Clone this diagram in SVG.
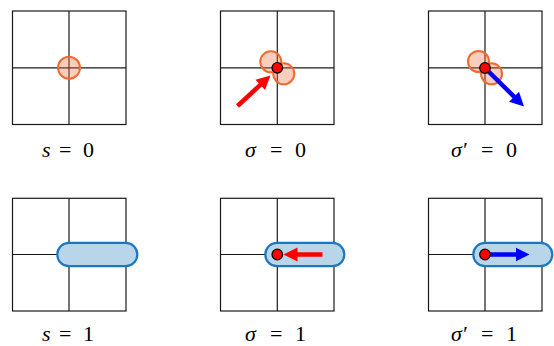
<svg xmlns="http://www.w3.org/2000/svg" width="554" height="346" viewBox="0 0 554 346">
<style>
.grid{fill:none;stroke:#1a1a1a;stroke-width:1.2}
.disc{fill:#f07040;fill-opacity:0.35;stroke:#f06a30;stroke-width:2}
.cap{fill:#b9d5ea;stroke:#1a78c0;stroke-width:2.2}
.dot{fill:#ff0000;stroke:#000;stroke-width:1.2}
.ar{stroke:#ff0000;stroke-width:4.5;fill:none}
.ab{stroke:#0000ff;stroke-width:4.5;fill:none}
text{font-family:'Liberation Serif','Times New Roman',serif;font-size:22px;fill:#000}
.it{font-style:italic}
</style>
<defs>
<marker id="hr" markerUnits="userSpaceOnUse" markerWidth="16" markerHeight="16" viewBox="0 0 16 16" refX="2" refY="8" orient="auto"><path d="M0,1 L14,8 L0,15 z" fill="#ff0000"/></marker>
<marker id="hb" markerUnits="userSpaceOnUse" markerWidth="16" markerHeight="16" viewBox="0 0 16 16" refX="2" refY="8" orient="auto"><path d="M0,1 L14,8 L0,15 z" fill="#0000ff"/></marker>
</defs>
<g id="panel-s0">
<rect class="grid" x="12.5" y="11" width="113.5" height="113.5"/>
<line class="grid" x1="69" y1="11" x2="69" y2="124.5"/>
<line class="grid" x1="12.5" y1="67.8" x2="126" y2="67.8"/>
<circle class="disc" cx="69" cy="67.8" r="11"/>
<text y="157"><tspan class="it" x="42">s</tspan><tspan x="59">=</tspan><tspan x="83">0</tspan></text>
</g>
<g id="panel-sigma0">
<rect class="grid" x="220.5" y="11" width="113.5" height="113.5"/>
<line class="grid" x1="277.3" y1="11" x2="277.3" y2="124.5"/>
<line class="grid" x1="220.5" y1="67.8" x2="334" y2="67.8"/>
<circle class="disc" cx="270.8" cy="61.8" r="10.5"/>
<circle class="disc" cx="283.8" cy="73.8" r="10.5"/>
</g>
<g id="panel-sigmap0">
<rect class="grid" x="428.5" y="11" width="113.5" height="113.5"/>
<line class="grid" x1="485" y1="11" x2="485" y2="124.5"/>
<line class="grid" x1="428.5" y1="67.8" x2="542" y2="67.8"/>
<circle class="disc" cx="478.5" cy="61.5" r="10.5"/>
<circle class="disc" cx="491.5" cy="73.8" r="10.5"/>
</g>
<g id="panel-s1">
<rect class="grid" x="12.5" y="198.3" width="113.5" height="112.7"/>
<line class="grid" x1="69" y1="198.3" x2="69" y2="311"/>
<line class="grid" x1="12.5" y1="254.5" x2="126" y2="254.5"/>
<rect class="cap" x="57.3" y="242.8" width="80" height="23.3" rx="11.65"/>
<text y="341"><tspan class="it" x="42">s</tspan><tspan x="59">=</tspan><tspan x="83">1</tspan></text>
</g>
<g id="panel-sigma1">
<rect class="grid" x="220.5" y="198.3" width="113.5" height="112.7"/>
<line class="grid" x1="277.3" y1="198.3" x2="277.3" y2="311"/>
<line class="grid" x1="220.5" y1="254.5" x2="334" y2="254.5"/>
<rect class="cap" x="265.3" y="242.8" width="79" height="23.3" rx="11.65"/>
</g>
<g id="panel-sigmap1">
<rect class="grid" x="428.5" y="198.3" width="113.5" height="112.7"/>
<line class="grid" x1="485" y1="198.3" x2="485" y2="311"/>
<line class="grid" x1="428.5" y1="254.5" x2="542" y2="254.5"/>
<rect class="cap" x="473.3" y="242.8" width="79" height="23.3" rx="11.65"/>
</g>
<g id="connectors">
<line class="ar" x1="237.5" y1="106" x2="261.7" y2="83.6" marker-end="url(#hr)"/>
<line class="ab" x1="485" y1="68" x2="515.5" y2="98.1" marker-end="url(#hb)"/>
<line class="ar" x1="322.5" y1="254.5" x2="295.5" y2="254.5" marker-end="url(#hr)"/>
<line class="ab" x1="485" y1="254.5" x2="517.5" y2="254.5" marker-end="url(#hb)"/>
</g>
<g id="dots">
<circle class="dot" cx="277.3" cy="67.8" r="5.3"/>
<circle class="dot" cx="485" cy="68" r="5.3"/>
<circle class="dot" cx="277.3" cy="254.5" r="5.3"/>
<circle class="dot" cx="485" cy="254.5" r="5.3"/>
</g>
<g id="labels">
<text y="157"><tspan class="it" x="245">σ</tspan><tspan x="270">=</tspan><tspan x="295">0</tspan></text>
<text y="157"><tspan class="it" x="451">σ′</tspan><tspan x="481">=</tspan><tspan x="506">0</tspan></text>
<text y="341"><tspan class="it" x="245">σ</tspan><tspan x="270">=</tspan><tspan x="295">1</tspan></text>
<text y="341"><tspan class="it" x="451">σ′</tspan><tspan x="481">=</tspan><tspan x="506">1</tspan></text>
</g>
</svg>
